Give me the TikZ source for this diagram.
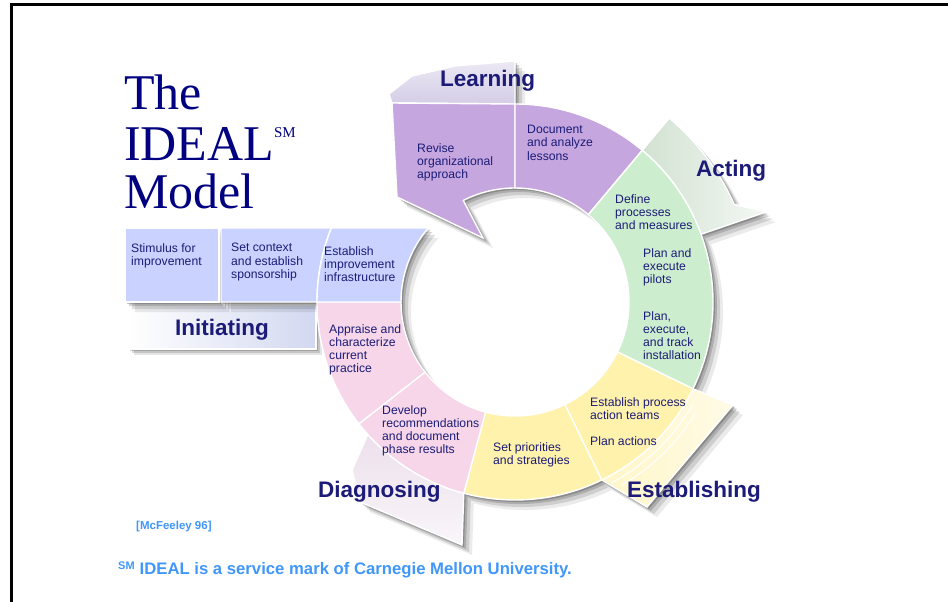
\documentclass[tikz,border=0pt]{standalone}
\usepackage{fontspec}
\setmainfont{Liberation Serif}
\setsansfont{Liberation Sans}

\definecolor{TitleColor}{RGB}{0,0,128}
\definecolor{LabelColor}{RGB}{28,28,120}
\definecolor{NoteColor}{RGB}{64,150,250}
\definecolor{LearnColor}{RGB}{197,166,222}
\definecolor{ActColor}{RGB}{205,238,206}
\definecolor{EstabColor}{RGB}{255,242,172}
\definecolor{DiagColor}{RGB}{246,214,232}
\definecolor{InitColor}{RGB}{202,211,255}
\definecolor{LearnTab}{RGB}{212,205,230}
\definecolor{ActTab}{RGB}{210,226,210}
\definecolor{EstabTab}{RGB}{255,246,200}
\definecolor{DiagTab}{RGB}{236,224,236}
\definecolor{InitTab}{RGB}{210,216,240}

% point on the ring (centre 515,302), angle and radius
\newcommand{\onring}[2]{([shift={(515,302)}]#1:#2)}
\newcommand{\ringpart}[2]{\onring{#1}{198} arc[start angle=#1, end angle=#2, radius=198] -- \onring{#2}{114} arc[start angle=#2, end angle=#1, radius=114] -- cycle}
% shapes
\newcommand{\revisepath}{\onring{-90}{198} -- (392,103) -- (397,197) -- (483,238) -- \onring{-117}{114} arc[start angle=-117, end angle=-90, radius=114] -- cycle}
\newcommand{\tabLearn}{(389,94) -- (412,76) -- (455,66) -- (515,61) -- \onring{-90}{198} -- (392,103) -- cycle}
\newcommand{\tabAct}{\onring{-50}{198} -- \onring{-50}{240} arc[start angle=-50, end angle=-24, radius=240] -- (766,212) -- \onring{-20}{198} arc[start angle=-20, end angle=-50, radius=198] -- cycle}
\newcommand{\tabEstab}{\onring{26}{198} -- (733,405) -- (647,507) -- \onring{64}{198} arc[start angle=64, end angle=26, radius=198] -- cycle}
\newcommand{\tabDiag}{\onring{138}{198} -- (352,470) -- (360,502) -- (462,545) -- \onring{105}{198} arc[start angle=105, end angle=138, radius=198] -- cycle}
\newcommand{\boxStimulus}{(125,228) rectangle (219,302)}
\newcommand{\boxContext}{(221,228) -- \onring{202}{198} arc[start angle=202, end angle=180, radius=198] -- (221,302) -- cycle}
\newcommand{\boxInfra}{\onring{202}{198} -- \onring{220.5}{114} arc[start angle=220.5, end angle=180, radius=114] -- \onring{180}{198} arc[start angle=180, end angle=202, radius=198] -- cycle}

\tikzset{
  segment/.style={draw=white, line width=1.4pt},
  title/.style={font=\fontsize{50}{50}\selectfont, text=TitleColor, anchor=base west, inner sep=0pt},
  steptext/.style={font=\sffamily\fontsize{12.2}{13.3}\selectfont, text=LabelColor, align=left, anchor=north west, inner sep=0pt},
  phase/.style={font=\sffamily\bfseries\fontsize{22.5}{24}\selectfont, text=LabelColor, anchor=base west, inner sep=0pt},
  note/.style={text=NoteColor, anchor=base west, inner sep=0pt}
}

\begin{document}
\begin{tikzpicture}[x=1pt, y=-1pt]
\useasboundingbox (0,0) rectangle (948,602);

% frame
\draw[line width=3pt] (11,602) -- (11,4.5) -- (948,4.5);

% title
\node[title] (titleThe) at (124,110) {The};
\node[title] (titleIdeal) at (124,160) {IDEAL\raisebox{23pt}{\fontsize{15}{15}\selectfont SM}};
\node[title] (titleModel) at (124,208) {Model};

% initiating band with its shadow
\foreach \d/\o in {6/0.10, 4/0.14, 2/0.18}
  \fill[black, opacity=\o, shift={(\d,\d)}] (128,305) rectangle (316,349);
\path[segment, left color=white, right color=InitTab] (128,305) rectangle (316,349);

% shadows
\foreach \d/\o in {10/0.08, 7/0.12, 4/0.16, 2/0.2} {
  \begin{scope}[shift={(\d,\d)}]
    \fill[black, opacity=\o] \tabLearn \tabAct \tabEstab \tabDiag \revisepath
      \ringpart{-50}{-90} \ringpart{26}{-50} \ringpart{105}{26} \ringpart{180}{105}
      \boxStimulus \boxContext \boxInfra;
  \end{scope}
}

% tabs
\path[segment, top color=LearnTab!45, bottom color=LearnTab] \tabLearn;
\path[segment, left color=ActTab, right color=ActTab!25] \tabAct;
\path[segment, left color=EstabTab, right color=EstabTab!45] \tabEstab;
\path[segment, top color=DiagTab, bottom color=DiagTab!30] \tabDiag;
\draw[white, line width=1pt] \onring{30}{205} arc[start angle=30, end angle=62, radius=205];
\draw[white, line width=1pt] \onring{32}{212} arc[start angle=32, end angle=60, radius=212];

% Learning
\path[segment, fill=LearnColor] \revisepath;
\path[segment, fill=LearnColor] \ringpart{-50}{-90};
% Acting
\path[segment, fill=ActColor] \ringpart{26}{-50};
% Establishing
\path[segment, fill=EstabColor] \ringpart{105}{64};
\path[segment, fill=EstabColor] \ringpart{64}{26};
% Diagnosing
\path[segment, fill=DiagColor] \ringpart{180}{142};
\path[segment, fill=DiagColor] \ringpart{142}{105};
% Initiating
\path[segment, fill=InitColor] \boxStimulus;
\path[segment, fill=InitColor] \boxContext;
\path[segment, fill=InitColor] \boxInfra;

% step texts
\node[steptext] (revise) at (417,143) {Revise\\organizational\\approach};
\node[steptext] (document) at (527,125) {Document\\and analyze\\lessons};
\node[steptext] (define) at (615,194) {Define\\processes\\and measures};
\node[steptext] (pilots) at (643,248) {Plan and\\execute\\pilots};
\node[steptext] (install) at (643,311) {Plan,\\execute,\\and track\\installation};
\node[steptext] (teams) at (590,397) {Establish process\\action teams};
\node[steptext] (actions) at (590,436) {Plan actions};
\node[steptext] (priorities) at (493,442) {Set priorities\\and strategies};
\node[steptext] (develop) at (382,405) {Develop\\recommendations\\and document\\phase results};
\node[steptext] (appraise) at (329,324) {Appraise and\\characterize\\current\\practice};
\node[steptext] (stimulus) at (131,243) {Stimulus for\\improvement};
\node[steptext] (context) at (231,243) {Set context\\and establish\\sponsorship};
\node[steptext] (infra) at (324,246) {Establish\\improvement\\infrastructure};

% phase labels
\node[phase] (learning) at (440,87) {Learning};
\node[phase] (acting) at (696,176) {Acting};
\node[phase] (initiating) at (175,335) {Initiating};
\node[phase] (diagnosing) at (318,497) {Diagnosing};
\node[phase] (establishing) at (627,497) {Establishing};

% notes
\node[note, font=\sffamily\bfseries\fontsize{11.5}{13}\selectfont] (cite) at (136,529) {[McFeeley 96]};
\node[note, font=\sffamily\bfseries\fontsize{16.7}{18}\selectfont] (mark) at (118,574)
  {\raisebox{5pt}{\fontsize{11}{11}\selectfont SM}\hspace{5pt}IDEAL is a service mark of Carnegie Mellon University.};
\end{tikzpicture}
\end{document}
